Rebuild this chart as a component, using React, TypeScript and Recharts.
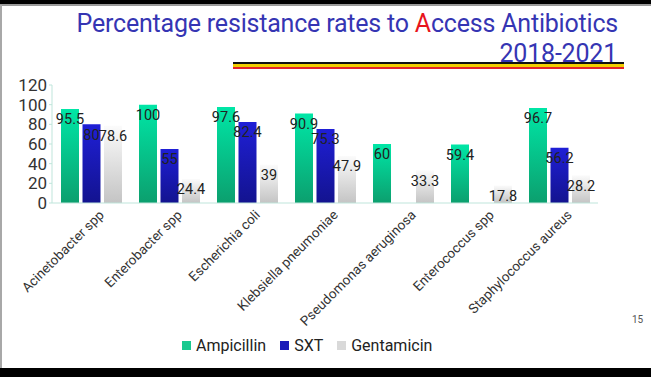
import React from "react";
import { BarChart, Bar, XAxis, YAxis, LabelList, Legend } from "recharts";

const organisms = [
  "Acinetobacter spp",
  "Enterobacter spp",
  "Escherichia coli",
  "Klebsiella pneumoniae",
  "Pseudomonas aeruginosa",
  "Enterococcus spp",
  "Staphylococcus aureus",
];
const ampicillin = [95.5, 100, 97.6, 90.9, 60, 59.4, 96.7];
const sxt = [80, 55, 82.4, 75.3, null, null, 56.2];
const gentamicin = [78.6, 24.4, 39, 47.9, 33.3, 17.8, 28.2];
const yTicks = [0, 20, 40, 60, 80, 100, 120];

const series = [
  { key: "ampicillin", name: "Ampicillin", grad: "gAmp", icon: "#19c98f" },
  { key: "sxt", name: "SXT", grad: "gSxt", icon: "#1a1ab8" },
  { key: "gentamicin", name: "Gentamicin", grad: "gGen", icon: "#d9d9d9" },
];

const data = organisms.map((name, i) => ({
  name,
  ampicillin: ampicillin[i],
  sxt: sxt[i],
  gentamicin: gentamicin[i],
}));

const FONT = "Roboto, 'Noto Sans', sans-serif";
const AXIS = "#bfe5db";

const XTick = (props: any) => {
  const { x, y, payload } = props;
  const tx = x + 7;
  const ty = y - 2;
  return (
    <text
      x={tx}
      y={ty}
      dy="0.71em"
      textAnchor="end"
      transform={`rotate(-45, ${tx}, ${ty})`}
      fontSize={13.5}
      fontFamily={FONT}
      fill="#333"
    >
      {payload.value}
    </text>
  );
};

const LegendContent = () => (
  <div style={{ display: "flex", alignItems: "center", fontFamily: FONT, fontSize: 16, color: "#222" }}>
    {series.map((s) => (
      <div key={s.key} style={{ display: "flex", alignItems: "center", marginRight: 14 }}>
        <span style={{ width: 9, height: 9, background: s.icon, display: "inline-block", marginRight: 5 }} />
        <span>{s.name}</span>
      </div>
    ))}
  </div>
);

export default function App() {
  return (
    <div
      style={{
        position: "absolute",
        left: 0,
        top: 0,
        width: 651,
        height: 377,
        background: "#fff",
        overflow: "hidden",
        fontFamily: FONT,
      }}
    >
      <div style={{ position: "absolute", left: 0, top: 0, width: 651, height: 4, background: "#000" }} />
      <div style={{ position: "absolute", left: 0, top: 4, width: 651, height: 1.5, background: "#9a9a9a" }} />
      <div style={{ position: "absolute", left: 0, top: 5, width: 2, height: 363, background: "#a8a8a8" }} />
      <div style={{ position: "absolute", left: 0, top: 368, width: 651, height: 9, background: "#000" }} />

      <div
        style={{
          position: "absolute",
          right: 33,
          top: 9,
          fontSize: 25,
          lineHeight: "30px",
          letterSpacing: -0.2,
          color: "#3535b3",
          whiteSpace: "nowrap",
          textAlign: "right",
        }}
      >
        Percentage resistance rates to <span style={{ color: "#e8141c" }}>A</span>ccess Antibiotics
      </div>
      <div
        style={{
          position: "absolute",
          right: 34,
          top: 39,
          fontSize: 25,
          lineHeight: "30px",
          letterSpacing: -0.2,
          color: "#3535b3",
          whiteSpace: "nowrap",
        }}
      >
        2018-2021
      </div>
      <div style={{ position: "absolute", left: 233, top: 62, width: 391, height: 2.4, background: "#111" }} />
      <div style={{ position: "absolute", left: 233, top: 64.4, width: 391, height: 2.3, background: "#f2cf00" }} />
      <div style={{ position: "absolute", left: 233, top: 66.7, width: 391, height: 2.3, background: "#e3242b" }} />

      <div style={{ position: "absolute", left: 632, top: 314, fontSize: 10, color: "#555" }}>15</div>

      <div style={{ position: "absolute", left: 0, top: 0 }}>
        <BarChart
          width={651}
          height={377}
          data={data}
          margin={{ top: 85, right: 53, left: 0, bottom: 44 }}
          barCategoryGap={9}
          barGap={3.5}
        >
          <defs>
            <linearGradient id="gAmp" x1="0" y1="0" x2="0" y2="1">
              <stop offset="0%" stopColor="#00e6a6" />
              <stop offset="100%" stopColor="#0c9f6e" />
            </linearGradient>
            <linearGradient id="gSxt" x1="0" y1="0" x2="0" y2="1">
              <stop offset="0%" stopColor="#1f1fd6" />
              <stop offset="100%" stopColor="#13138f" />
            </linearGradient>
            <linearGradient id="gGen" x1="0" y1="0" x2="0" y2="1">
              <stop offset="0%" stopColor="#fbfbfb" />
              <stop offset="100%" stopColor="#c4c4c4" />
            </linearGradient>
          </defs>
          <XAxis
            dataKey="name"
            interval={0}
            height={110}
            tickLine={false}
            axisLine={{ stroke: AXIS }}
            tick={<XTick />}
          />
          <YAxis
            domain={[0, 120]}
            ticks={yTicks}
            interval={0}
            width={52}
            tickSize={3}
            tickLine={{ stroke: AXIS }}
            axisLine={{ stroke: AXIS }}
            tick={{ fontSize: 17, fontFamily: FONT, fill: "#333" }}
          />
          <Legend
            verticalAlign="bottom"
            content={<LegendContent />}
            wrapperStyle={{ left: 182, top: 336, width: "auto", height: 20 }}
          />
          {series.map((s) => (
            <Bar key={s.key} dataKey={s.key} name={s.name} fill={`url(#${s.grad})`} isAnimationActive={false}>
              <LabelList
                dataKey={s.key}
                position="insideTop"
                offset={5}
                fontSize={14.5}
                fontFamily={FONT}
                fill="#222"
              />
            </Bar>
          ))}
        </BarChart>
      </div>
    </div>
  );
}
